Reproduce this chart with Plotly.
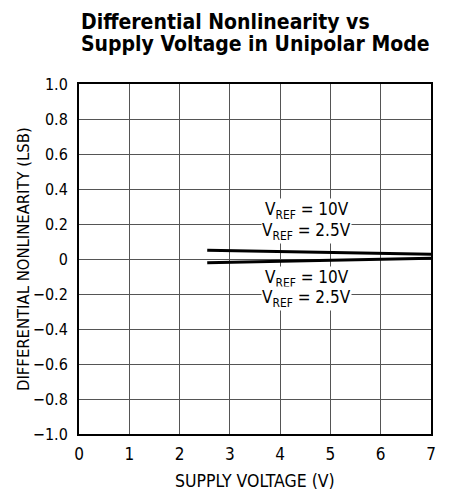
import plotly.graph_objects as go

supply_v = [2.55, 7.0]
dnl_upper = [0.05, 0.027]
dnl_lower = [-0.022, 0.004]

x_ticks = [0, 1, 2, 3, 4, 5, 6, 7]
y_ticks = [-1.0, -0.8, -0.6, -0.4, -0.2, 0, 0.2, 0.4, 0.6, 0.8, 1.0]
y_tick_text = ["\u22121.0", "\u22120.8", "\u22120.6", "\u22120.4", "\u22120.2", "0", "0.2", "0.4", "0.6", "0.8", "1.0"]

label_x = 4.53
labels_upper = ["V<sub>REF</sub> = 10V", "V<sub>REF</sub> = 2.5V"]
labels_upper_y = [0.28, 0.155]
labels_lower = ["V<sub>REF</sub> = 10V", "V<sub>REF</sub> = 2.5V"]
labels_lower_y = [-0.11, -0.225]

title_lines = ["Differential Nonlinearity vs", "Supply Voltage in Unipolar Mode"]
x_title = "SUPPLY VOLTAGE (V)"
y_title = "DIFFERENTIAL NONLINEARITY (LSB)"

FONT = "DejaVu Sans Condensed, Liberation Sans Narrow, Arial Narrow, sans-serif"

fig = go.Figure()
fig.add_trace(go.Scatter(x=supply_v, y=dnl_upper, mode="lines",
                         line=dict(color="black", width=3), showlegend=False))
fig.add_trace(go.Scatter(x=supply_v, y=dnl_lower, mode="lines",
                         line=dict(color="black", width=3), showlegend=False))

for txt, yy in zip(labels_upper + labels_lower, labels_upper_y + labels_lower_y):
    fig.add_annotation(x=label_x, y=yy, text=txt, showarrow=False,
                       font=dict(family=FONT, size=17, color="black"),
                       bgcolor="white", borderpad=0)

for line, ys in zip(title_lines, [62, 40]):
    fig.add_annotation(xref="paper", yref="paper", x=0, y=1, xanchor="left", yanchor="middle",
                       yshift=ys, text="<b>" + line + "</b>", showarrow=False,
                       font=dict(family=FONT, size=21, color="black"))

# axis titles
fig.add_annotation(xref="paper", yref="paper", x=0.5, y=0, xanchor="center", yanchor="middle",
                   yshift=-47, text=x_title, showarrow=False,
                   font=dict(family=FONT, size=17.5, color="black"))
fig.add_annotation(xref="paper", yref="paper", x=0, y=0.5, xanchor="center", yanchor="middle",
                   xshift=-56, textangle=-90, text=y_title, showarrow=False,
                   font=dict(family=FONT, size=16.5, color="black"))

fig.update_layout(
    width=453, height=483,
    margin=dict(l=71, r=30, t=76, b=57),
    paper_bgcolor="white", plot_bgcolor="white",
    font=dict(family=FONT, color="black"),
)
fig.update_xaxes(range=[0, 7], tickvals=x_ticks, ticktext=[str(t) for t in x_ticks],
                 showgrid=True, gridcolor="#555555", gridwidth=1,
                 showline=True, linecolor="black", linewidth=2, mirror=True,
                 ticks="outside", ticklen=4, tickcolor="rgba(0,0,0,0)",
                 tickfont=dict(family=FONT, size=17), automargin=False,
                 zeroline=False)
fig.update_yaxes(range=[-1.0, 1.0], tickvals=y_ticks, ticktext=y_tick_text,
                 showgrid=True, gridcolor="#555555", gridwidth=1,
                 showline=True, linecolor="black", linewidth=2, mirror=True,
                 ticks="outside", ticklen=6, tickcolor="rgba(0,0,0,0)",
                 tickfont=dict(family=FONT, size=16), automargin=False,
                 zeroline=False)

fig.write_html("out.html")
